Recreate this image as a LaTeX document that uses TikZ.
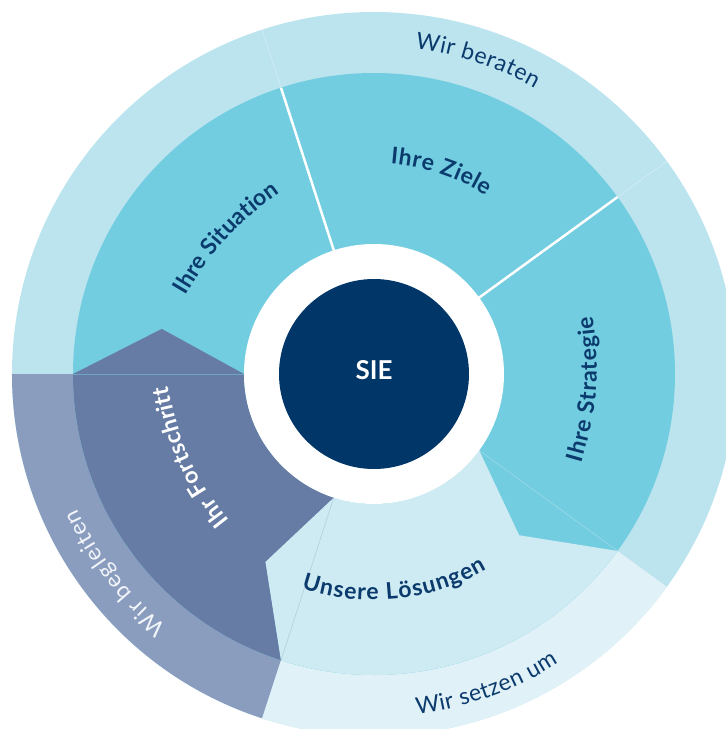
\documentclass[tikz,border=0pt]{standalone}
\usepackage{fontspec}
\usetikzlibrary{decorations.text}
\setmainfont{Lato}
\newfontfamily\latofam{Lato}
\newcommand\boldlab{\latofam\bfseries}
\newcommand\lightlab{\latofam}
\definecolor{outerblue}{HTML}{BCE4EF}
\definecolor{tealmid}{HTML}{72CDE0}
\definecolor{fortcol}{HTML}{667CA5}
\definecolor{beglcol}{HTML}{8A9DBF}
\definecolor{loescol}{HTML}{CEEAF2}
\definecolor{setzcol}{HTML}{E0F1F7}
\definecolor{siecol}{HTML}{003668}
\definecolor{textnavy}{HTML}{0B3A6D}
\definecolor{lighttext}{HTML}{F2F5FA}
\tikzset{
  innerlab/.style={decorate, decoration={text along path, text color=textnavy,
     text align={fit to path}, text={|\boldlab\fontsize{23}{27}\selectfont|#1}}},
  innerwhite/.style={decorate, decoration={text along path, text color=white,
     text align={fit to path}, text={|\boldlab\fontsize{23}{27}\selectfont|#1}}},
  outerlab/.style={decorate, decoration={text along path, text color=textnavy,
     text align={fit to path}, text={|\lightlab\fontsize{23}{27}\selectfont|#1}}},
  outerwhite/.style={decorate, decoration={text along path, text color=lighttext,
     text align={fit to path}, text={|\lightlab\fontsize{23}{27}\selectfont|#1}}},
  faint/.style={line width=0.6pt}
}
\begin{document}
\begin{tikzpicture}[x=1pt,y=1pt]
\useasboundingbox (-374,-355) rectangle (352,374);
\clip (-374,-355) rectangle (352,374);
% outer ring
\fill[outerblue] (0,0) circle[radius=362];
\fill[beglcol] (0,0) -- (180:362) arc[start angle=180,end angle=252,radius=362] -- cycle;
\fill[setzcol] (0,0) -- (252:362) arc[start angle=252,end angle=324,radius=362] -- cycle;
\draw[faint, white, opacity=0.35] (108:301) -- (108:362);
\draw[faint, white, opacity=0.35] (36:301) -- (36:362);
% middle ring
\fill[tealmid] (0,0) circle[radius=301];
\fill[fortcol] (180:130) -- (168:217) -- (180:301) arc[start angle=180,end angle=252,radius=301]
   -- (240:217) -- (252:130) arc[start angle=252,end angle=180,radius=130] -- cycle;
\fill[loescol] (252:130) -- (240:217) -- (252:301) arc[start angle=252,end angle=324,radius=301]
   -- (312:217) -- (324:130) arc[start angle=324,end angle=252,radius=130] -- cycle;
\draw[faint, tealmid, opacity=0.5] (180:130) -- (180:301);
\draw[faint, fortcol, opacity=0.25] (252:130) -- (252:301);
\draw[faint, loescol, opacity=0.45] (324:130) -- (324:301);
\draw[white, line width=2.5pt] (108:128) -- (108:301);
\draw[white, line width=2.5pt] (36:128) -- (36:301);
% centre
\fill[white] (0,0) circle[radius=130];
\node[circle, fill=siecol, minimum size=190pt, inner sep=0pt] (sie) at (0,0) {};
\node[text=white, font=\boldlab\fontsize{26}{30}\selectfont, inner sep=0pt] (sielabel) at (0,3.5) {SIE};
% inner labels
\path[innerlab={Ihre Situation}] (157.5:204) to[bend left=12] (117.5:204);
\path[innerlab={Ihre Ziele}] (85.5:211) arc[start angle=85.5,end angle=57.8,radius=211];
\path[innerlab={Ihre Strategie}] (-23.2:226) to[bend right=12] (14.8:226);
\path[innerlab={Unsere Lösungen}] (251.3:226) arc[start angle=251.3,end angle=300,radius=226];
\path[innerwhite={Ihr Fortschritt}] (225.3:206) to[bend left=14] (183.3:206);
% outer labels
\path[outerlab={Wir beraten}] (82.8:328) arc[start angle=82.8,end angle=60.6,radius=328];
\path[outerlab={Wir setzen um}] (277.2:343) arc[start angle=277.2,end angle=302.6,radius=343];
\path[outerwhite={Wir begleiten}] (230.6:326) arc[start angle=230.6,end angle=204.4,radius=326];
\end{tikzpicture}
\end{document}
